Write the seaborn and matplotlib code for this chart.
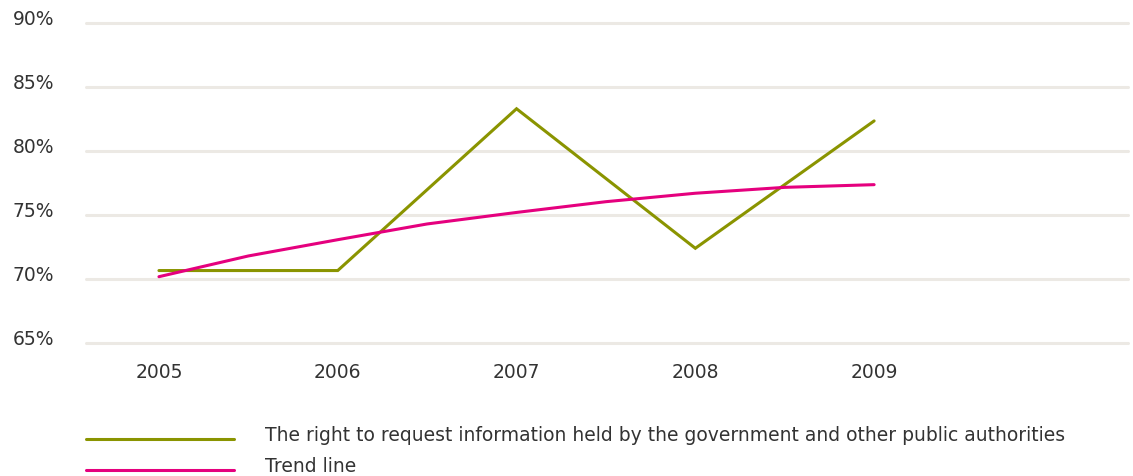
import matplotlib
matplotlib.use("Agg")
import matplotlib.pyplot as plt
import matplotlib.transforms as mtransforms
import seaborn as sns
import pandas as pd
from matplotlib.lines import Line2D

years = ["2005", "2006", "2007", "2008", "2009"]
right_to_request = [70.66, 70.66, 83.3, 72.4, 82.35]

# trend curve sampled every half year
trend_pos = [0, 0.5, 1, 1.5, 2, 2.5, 3, 3.5, 4]
trend_vals = [70.18, 71.8, 73.07, 74.3, 75.2, 76.04, 76.7, 77.16, 77.37]

y_ticks = [65, 70, 75, 80, 85, 90]

series_label = "The right to request information held by the government and other public authorities"
trend_label = "Trend line"

green = "#8a9400"
pink = "#e5007e"
grid_col = "#ece9e4"
text_col = "#333333"
fs = 13.5
W, H = 1133, 477

sns.set_theme(style="white")
plt.rcParams["font.family"] = ["DejaVu Sans"]

fig = plt.figure(figsize=(W / 100, H / 100), dpi=100)
ax = fig.add_axes([86 / W, 1 - 344 / H, (1128 - 86) / W, 320 / H])

df = pd.DataFrame({"pos": range(len(years)), "value": right_to_request})
tf = pd.DataFrame({"pos": trend_pos, "value": trend_vals})

sns.lineplot(data=df, x="pos", y="value", color=green, linewidth=2.2, ax=ax,
             zorder=3, solid_joinstyle="miter")
sns.lineplot(data=tf, x="pos", y="value", color=pink, linewidth=2.2, ax=ax,
             zorder=3)

ax.set_xlim(-0.408, 5.42)
ax.set_ylim(65, 90)
ax.set_yticks(y_ticks)
ax.set_yticklabels([f"{v}%" for v in y_ticks])
ax.set_xticks(range(len(years)))
ax.set_xticklabels(years)
ax.set_xlabel("")
ax.set_ylabel("")

for v in y_ticks:
    ax.axhline(v, color=grid_col, linewidth=2.2, zorder=1, clip_on=False)

for s in ax.spines.values():
    s.set_visible(False)

ax.tick_params(axis="both", length=0, labelsize=fs, colors=text_col)
ax.tick_params(axis="x", pad=14)
ax.tick_params(axis="y", pad=23)
lift = mtransforms.ScaledTranslation(0, 4 / 100, fig.dpi_scale_trans)
for lbl in ax.get_yticklabels():
    lbl.set_verticalalignment("center")
    lbl.set_transform(lbl.get_transform() + lift)

# legend below the plot: sample line, then label text
legend_rows = [(green, series_label, 440, 436), (pink, trend_label, 471, 467)]
for color, label, line_y, text_y in legend_rows:
    fig.add_artist(Line2D([86 / W, 234 / W], [1 - line_y / H, 1 - line_y / H],
                          color=color, linewidth=2.2))
    fig.text(265 / W, 1 - text_y / H, label, fontsize=fs, color=text_col,
             ha="left", va="center")

fig.savefig("out.png", dpi=100)
